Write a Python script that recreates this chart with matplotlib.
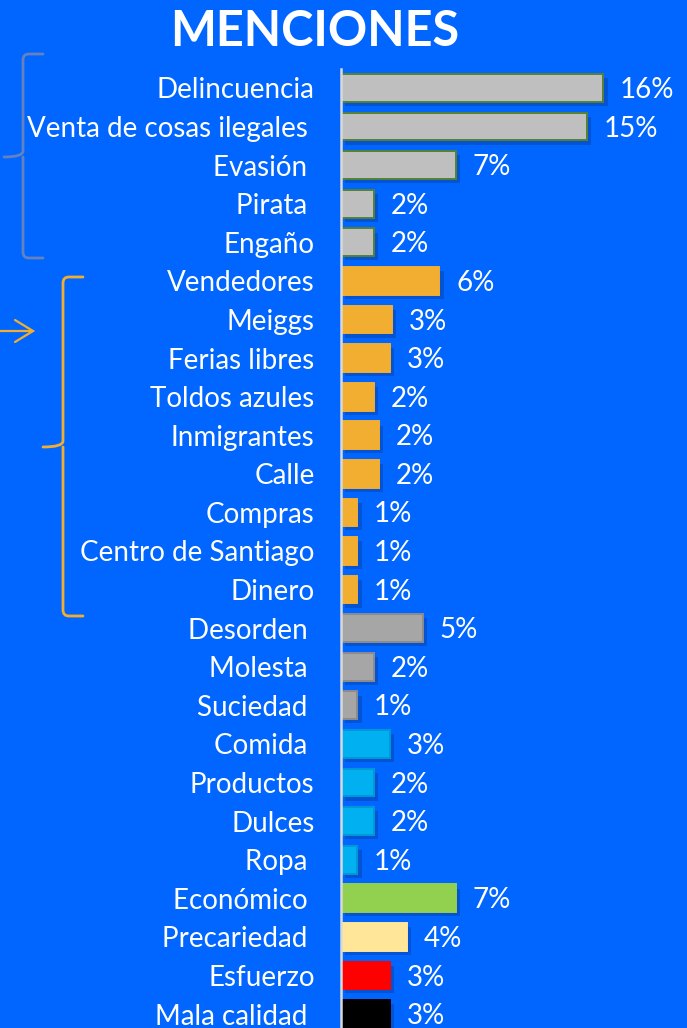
import matplotlib.pyplot as plt
import matplotlib.patheffects as pe
import numpy as np
from matplotlib.path import Path
from matplotlib.patches import PathPatch

plt.rcParams["font.family"] = ["Lato", "DejaVu Sans"]

labels = [
    "Delincuencia", "Venta de cosas ilegales ", "Evasión ", "Pirata ", "Engaño",
    "Vendedores", "Meiggs", "Ferias libres", "Toldos azules", "Inmigrantes",
    "Calle", "Compras", "Centro de Santiago", "Dinero",
    "Desorden ", "Molesta ", "Suciedad ",
    "Comida ", "Productos", "Dulces", "Ropa ",
    "Económico ", "Precariedad ", "Esfuerzo", "Mala calidad ",
]
values = [
    0.160, 0.150, 0.070, 0.020, 0.020,
    0.060, 0.031, 0.030, 0.020, 0.023,
    0.023, 0.010, 0.010, 0.010,
    0.050, 0.020, 0.010,
    0.030, 0.020, 0.020, 0.010,
    0.070, 0.040, 0.030, 0.030,
]
group = [
    "delito"] * 5 + ["comercio"] * 9 + ["desorden"] * 3 + ["producto"] * 4 + [
    "economico", "precariedad", "esfuerzo", "calidad"]

fill_colors = {
    "delito": "#BFBFBF", "comercio": "#F2AE30", "desorden": "#A6A6A6",
    "producto": "#00B0F0", "economico": "#92D050", "precariedad": "#FFE699",
    "esfuerzo": "#FF0000", "calidad": "#000000",
}
edge_colors = {
    "delito": "#538135", "comercio": "#F2AE30", "desorden": "#8C8C8C",
    "producto": "#0099D8", "economico": "#92D050", "precariedad": "#FFE699",
    "esfuerzo": "#FF0000", "calidad": "#000000",
}

BG = "#0066FF"
W, H, DPI = 687, 1028, 100

fig = plt.figure(figsize=(W / DPI, H / DPI), dpi=DPI, facecolor=BG)

# main bar axes, placed in pixel terms
ax_left, ax_top, ax_bottom = 341, 69, 1028
ax = fig.add_axes([ax_left / W, 0, 1 - ax_left / W, 1 - ax_top / H])
ax.set_facecolor(BG)

y = np.arange(len(labels))
shadow = [pe.SimplePatchShadow(offset=(3, -3), shadow_rgbFace="#0a3d9c", alpha=0.45), pe.Normal()]
bars = ax.barh(
    y, values, height=0.72,
    color=[fill_colors[g] for g in group],
    edgecolor=[edge_colors[g] for g in group],
    linewidth=1.4,
)
for b in bars:
    b.set_path_effects(shadow)

for yi, v in zip(y, values):
    ax.annotate(f"{round(v * 100):.0f}%", (v, yi), xytext=(12, -1.5), textcoords="offset points",
                ha="left", va="center", color="white", fontsize=20)

row_px = 38.6
ax.set_ylim(len(labels) - 1 + (ax_bottom - 1014) / row_px, -(88 - ax_top) / row_px)
ax.set_xlim(0, 0.211)
ax.set_yticks(y)
ax.set_yticklabels(labels, color="white", fontsize=20)
ax.tick_params(axis="y", length=0, pad=19)
ax.set_xticks([])
for side in ["top", "right", "bottom"]:
    ax.spines[side].set_visible(False)
ax.spines["left"].set_color("#D9D9D9")
ax.spines["left"].set_linewidth(1.8)

# overlay in pixel coords for title and braces
ov = fig.add_axes([0, 0, 1, 1], facecolor="none")
ov.set_xlim(0, W)
ov.set_ylim(H, 0)
ov.axis("off")

ov.text(315, 31, "MENCIONES", ha="center", va="center", color="white",
        fontsize=35, fontweight="bold")


def brace(x_line, x_hook, x_tip, y_top, y_mid, y_bot, color):
    r = 6
    verts = [
        (x_hook, y_top), (x_line + r, y_top), (x_line, y_top), (x_line, y_top + r),
        (x_line, y_mid - r), (x_line, y_mid), (x_tip, y_mid),
        (x_line, y_mid), (x_line, y_mid + r),
        (x_line, y_bot - r), (x_line, y_bot), (x_line + r, y_bot), (x_hook, y_bot),
    ]
    codes = [
        Path.MOVETO, Path.LINETO, Path.CURVE3, Path.CURVE3,
        Path.LINETO, Path.CURVE3, Path.CURVE3,
        Path.MOVETO, Path.CURVE3,
        Path.LINETO, Path.CURVE3, Path.CURVE3, Path.LINETO,
    ]
    ov.add_patch(PathPatch(Path(verts, codes), facecolor="none", edgecolor=color,
                           linewidth=2, capstyle="round"))


brace(23, 43, 4, 54, 157, 258, "#6482C0")
brace(63, 83, 43, 277, 447, 616, "#F2AE30")
# arrow: shaft plus open chevron head
ov.plot([0, 33], [331, 331], color="#F2AE30", linewidth=1.6, solid_capstyle="round")
ov.plot([15, 33, 15], [320, 331, 342], color="#F2AE30", linewidth=1.6,
        solid_capstyle="round", solid_joinstyle="miter")

fig.savefig("out.png", dpi=DPI, facecolor=BG)
